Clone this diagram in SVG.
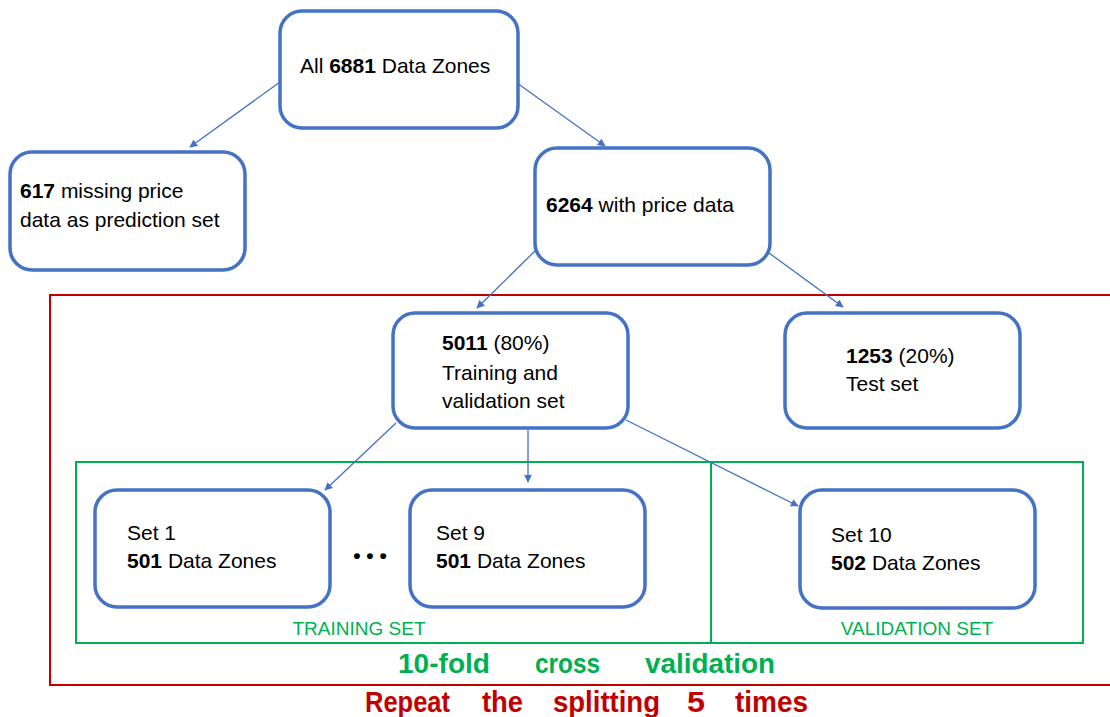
<svg xmlns="http://www.w3.org/2000/svg" width="1110" height="717" viewBox="0 0 1110 717">
  <defs>
    <marker id="arrow" viewBox="0 0 10 10" refX="9" refY="5" markerWidth="8" markerHeight="8" markerUnits="userSpaceOnUse" orient="auto">
      <path d="M0,0 L10,5 L0,10 z" fill="#4472C4"/>
    </marker>
    <style>
      .box { fill: #ffffff; stroke: #4472C4; stroke-width: 3.5; }
      .edge { stroke: #4472C4; stroke-width: 1.3; fill: none; marker-end: url(#arrow); }
      .lbl { font-family: "Liberation Sans", Arial, sans-serif; font-size: 21px; fill: #000000; }
      .b { font-weight: bold; }
      .grp-green { fill: none; stroke: #00B050; stroke-width: 2; }
      .grp-red { fill: none; stroke: #C00000; stroke-width: 2; }
      .green-lbl { font-family: "Liberation Sans", Arial, sans-serif; font-size: 19px; fill: #00B050; }
      .caption-g { font-family: "Liberation Sans", Arial, sans-serif; font-size: 27px; font-weight: bold; fill: #00B050; }
      .caption-r { font-family: "Liberation Sans", Arial, sans-serif; font-size: 29px; font-weight: bold; fill: #C00000; }
    </style>
  </defs>

  <rect width="1110" height="717" fill="#ffffff"/>

  <!-- outer frame: repeated splitting -->
  <rect class="grp-red" x="50" y="295" width="1070" height="390"/>

  <!-- cross-validation frame with training / validation partitions -->
  <g id="cv-frame">
    <rect class="grp-green" x="76" y="462" width="1007" height="181"/>
    <line x1="711" y1="462" x2="711" y2="643" stroke="#00B050" stroke-width="2"/>
    <text class="green-lbl" x="359" y="635" text-anchor="middle">TRAINING SET</text>
    <text class="green-lbl" x="917" y="635" text-anchor="middle">VALIDATION SET</text>
  </g>

  <!-- connectors -->
  <g id="connectors">
    <line class="edge" x1="280" y1="82" x2="190" y2="147"/>
    <line class="edge" x1="517" y1="83" x2="605" y2="146"/>
    <line class="edge" x1="536" y1="250" x2="477" y2="308"/>
    <line class="edge" x1="769" y1="253" x2="843" y2="307"/>
    <line class="edge" x1="396" y1="423" x2="325" y2="490"/>
    <line class="edge" x1="528" y1="430" x2="528" y2="482"/>
    <line class="edge" x1="626" y1="420" x2="798" y2="506"/>
  </g>

  <g id="all-zones">
    <rect class="box" x="280" y="11" width="238" height="117" rx="22"/>
    <text class="lbl" x="300" y="73">All <tspan class="b">6881</tspan> Data Zones</text>
  </g>

  <g id="missing-price">
    <rect class="box" x="10" y="152" width="235" height="118" rx="22"/>
    <text class="lbl" x="20" y="198"><tspan class="b">617</tspan> missing price</text>
    <text class="lbl" x="20" y="227">data as prediction set</text>
  </g>

  <g id="with-price">
    <rect class="box" x="535" y="148" width="235" height="117" rx="22"/>
    <text class="lbl" x="546" y="212"><tspan class="b">6264</tspan> with price data</text>
  </g>

  <g id="train-val">
    <rect class="box" x="393" y="313" width="235" height="115" rx="22"/>
    <text class="lbl" x="442" y="350"><tspan class="b">5011</tspan> (80%)</text>
    <text class="lbl" x="442" y="380">Training and</text>
    <text class="lbl" x="442" y="408">validation set</text>
  </g>

  <g id="test-set">
    <rect class="box" x="785" y="313" width="235" height="115" rx="22"/>
    <text class="lbl" x="846" y="363"><tspan class="b">1253</tspan> (20%)</text>
    <text class="lbl" x="846" y="391">Test set</text>
  </g>

  <g id="set-1">
    <rect class="box" x="95" y="490" width="235" height="117" rx="22"/>
    <text class="lbl" x="127" y="540">Set 1</text>
    <text class="lbl" x="127" y="568"><tspan class="b">501</tspan> Data Zones</text>
  </g>

  <g id="ellipsis">
    <text class="lbl b" x="370" y="563" font-size="17" text-anchor="middle">• • •</text>
  </g>

  <g id="set-9">
    <rect class="box" x="410" y="490" width="235" height="117" rx="22"/>
    <text class="lbl" x="436" y="540">Set 9</text>
    <text class="lbl" x="436" y="568"><tspan class="b">501</tspan> Data Zones</text>
  </g>

  <g id="set-10">
    <rect class="box" x="800" y="490" width="235" height="118" rx="22"/>
    <text class="lbl" x="831" y="542">Set 10</text>
    <text class="lbl" x="831" y="570"><tspan class="b">502</tspan> Data Zones</text>
  </g>

  <!-- captions -->
  <g id="caption-cv">
    <text class="caption-g" x="398" y="673" textLength="92" lengthAdjust="spacingAndGlyphs">10-fold</text>
    <text class="caption-g" x="535" y="673" textLength="65" lengthAdjust="spacingAndGlyphs">cross</text>
    <text class="caption-g" x="645" y="673" textLength="130" lengthAdjust="spacingAndGlyphs">validation</text>
  </g>
  <g id="caption-repeat">
    <text class="caption-r" x="365" y="712" textLength="85" lengthAdjust="spacingAndGlyphs">Repeat</text>
    <text class="caption-r" x="482" y="712" textLength="41" lengthAdjust="spacingAndGlyphs">the</text>
    <text class="caption-r" x="553" y="712" textLength="107" lengthAdjust="spacingAndGlyphs">splitting</text>
    <text class="caption-r" x="687" y="712" textLength="18" lengthAdjust="spacingAndGlyphs">5</text>
    <text class="caption-r" x="735" y="712" textLength="73" lengthAdjust="spacingAndGlyphs">times</text>
  </g>
</svg>
